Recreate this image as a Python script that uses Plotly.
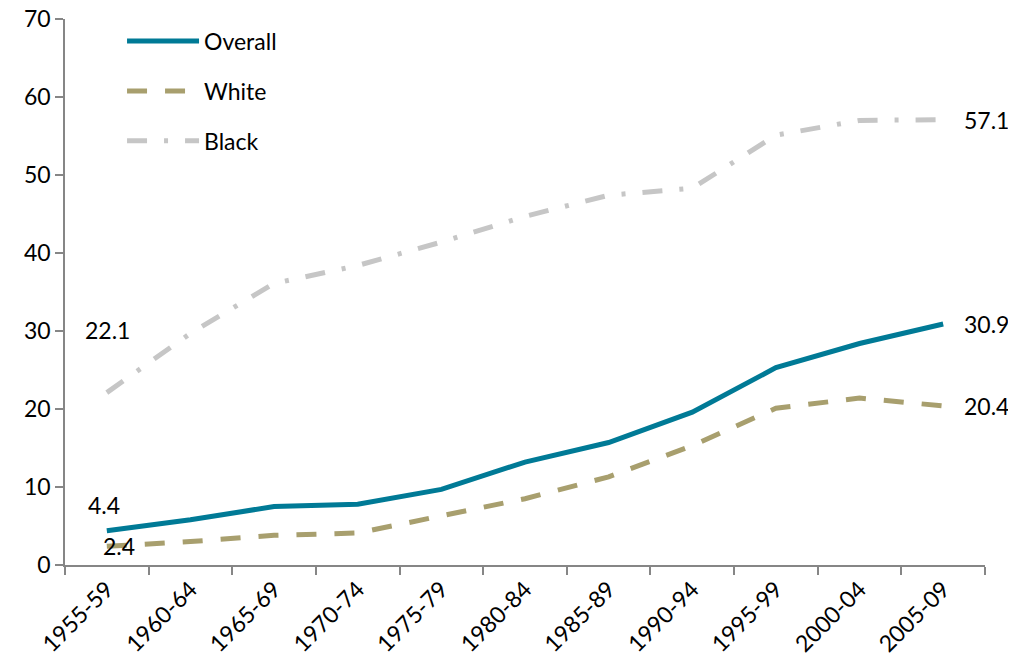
import plotly.graph_objects as go

categories = ["1955-59", "1960-64", "1965-69", "1970-74", "1975-79", "1980-84",
              "1985-89", "1990-94", "1995-99", "2000-04", "2005-09"]
overall = [4.4, 5.8, 7.5, 7.8, 9.7, 13.2, 15.7, 19.6, 25.3, 28.4, 30.9]
white = [2.4, 3.0, 3.8, 4.1, 6.3, 8.5, 11.3, 15.3, 20.1, 21.4, 20.4]
black = [22.1, 29.7, 36.1, 38.4, 41.4, 44.7, 47.4, 48.3, 55.1, 57.0, 57.1]
y_ticks = [0, 10, 20, 30, 40, 50, 60, 70]

FONT = "Lato"
FS = 23
fig = go.Figure()
fig.add_trace(go.Scatter(x=categories, y=overall, name="Overall", mode="lines",
                         line=dict(color="#007A96", width=5), legendgroup="a"))
fig.add_trace(go.Scatter(x=categories, y=white, name="White", mode="lines",
                         line=dict(color="#A89F6E", width=5, dash="20px,18px"), legendgroup="b"))
fig.add_trace(go.Scatter(x=categories, y=black, name="Black", mode="lines",
                         line=dict(color="#C6C6C6", width=5, dash="20px,17px,4px,17px"), legendgroup="c"))

# data labels
lab = dict(showarrow=False, font=dict(family=FONT, size=FS, color="#000000"))
fig.add_annotation(x=categories[0], y=black[0], text=f"{black[0]}", yshift=63, xshift=1, **lab)
fig.add_annotation(x=categories[0], y=overall[0], text=f"{overall[0]}", yshift=26, xshift=-3, **lab)
fig.add_annotation(x=categories[0], y=white[0], text=f"{white[0]}", xshift=12, yshift=0, **lab)
for s in (black, overall, white):
    fig.add_annotation(x=categories[-1], y=s[-1], text=f"{s[-1]}", xanchor="left", xshift=19, **lab)

fig.update_layout(
    width=1016, height=665,
    margin=dict(l=57, r=39, t=11, b=108, autoexpand=False),
    paper_bgcolor="white", plot_bgcolor="white",
    font=dict(family=FONT, size=FS, color="#000000"),
    showlegend=True,
    legend=dict(x=0.062, y=0.999, xanchor="left", yanchor="top", traceorder="grouped",
                tracegroupgap=17, itemwidth=72, bgcolor="rgba(0,0,0,0)",
                font=dict(family=FONT, size=FS, color="#000000")),
    xaxis=dict(type="category", range=[-0.5, 10.5], tickson="boundaries",
               ticks="outside", ticklen=8, tickcolor="#868686", tickwidth=1.5,
               showline=True, linecolor="#868686", linewidth=1.5,
               showgrid=False, tickangle=-45, ticklabeloverflow="allow",
               tickfont=dict(family=FONT, size=FS, color="#000000")),
    yaxis=dict(range=[0, 70], tickvals=y_ticks, ticks="outside", ticklen=8,
               tickcolor="#868686", tickwidth=1.5, showline=True, linecolor="#868686",
               linewidth=1.5, showgrid=False, zeroline=False, ticklabeloverflow="allow",
               tickfont=dict(family=FONT, size=FS, color="#000000")),
)
fig.write_html("out.html")
